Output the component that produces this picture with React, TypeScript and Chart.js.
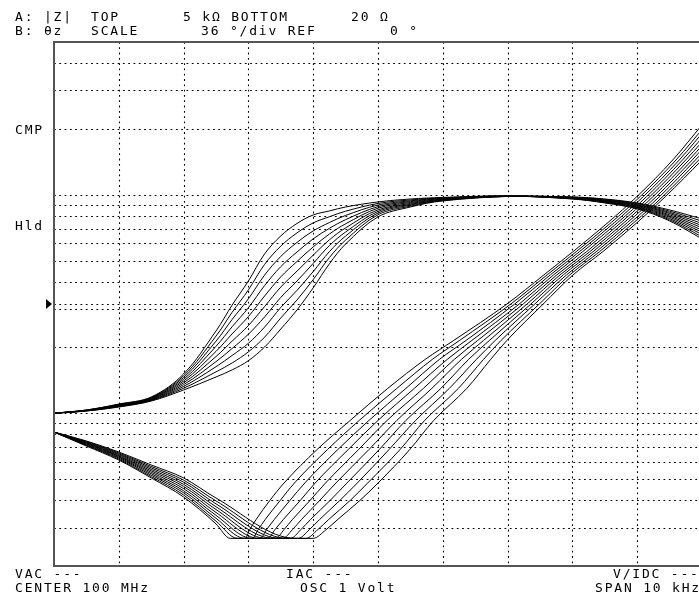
import React, { useEffect, useRef } from "react";
import { Chart, registerables } from "chart.js";

Chart.register(...registerables);

// ---------- axis ranges ----------
const FREQ_MIN_KHZ = -5; // CENTER 100 MHz, SPAN 10 kHz -> offset in kHz
const FREQ_MAX_KHZ = 5;
const MAG_BOTTOM_OHM = 20;
const MAG_TOP_OHM = 5000;
const PHASE_MIN_DEG = -180; // 36 deg/div, REF 0 deg at centre
const PHASE_MAX_DEG = 180;
const PHASE_REF_DEG = 0;

// ---------- grid ----------
const FREQ_GRID_KHZ = [-4, -3, -2, -1, 0, 1, 2, 3, 4];
const MAG_GRID_OHM = [30, 40, 50, 60, 70, 80, 90, 100, 200, 300, 400, 500, 600, 700, 800, 900, 1000, 2000, 3000, 4000];

// ---------- |Z| traces (ohm) sampled at these offsets (kHz) ----------
const MAG_FREQ_KHZ = [-5, -4.5, -4, -3.5, -3, -2.5, -2.25, -2, -1.75, -1.5, -1.25, -1, -0.75, -0.5, 0, 0.5, 1, 2, 3, 3.5, 4, 4.5, 5];
const MAG_OHM: number[][] = [
  [100, 103.5, 110.2, 118.7, 151.3, 238, 313, 403, 536, 648, 739, 808, 843, 879, 927, 956, 972, 987, 956, 917, 861, 759, 628],
  [100, 103.4, 109.8, 118.1, 148.5, 225.5, 290, 367, 480, 582, 669, 743, 793, 841, 912, 947, 968, 986, 958, 921, 867, 768, 642],
  [100, 103.3, 109.4, 117.6, 145.7, 213.7, 269, 334, 429, 522, 605, 683, 746, 804, 897, 938, 964, 986, 961, 926, 873, 778, 658],
  [100, 103.1, 109.0, 117.0, 143.0, 202.5, 249, 304, 384, 469, 547, 628, 702, 769, 882, 930, 960, 985, 963, 930, 879, 789, 673],
  [100, 103.0, 108.7, 116.5, 140.4, 191.9, 231, 277, 344, 421, 495, 577, 661, 736, 868, 921, 956, 985, 965, 934, 885, 799, 689],
  [100, 102.9, 108.3, 115.9, 137.8, 181.8, 214, 252, 308, 378, 447, 529, 622, 705, 853, 912, 952, 984, 968, 939, 892, 809, 706],
  [100, 102.8, 107.9, 115.4, 135.2, 172.3, 198, 230, 276, 339, 403, 485, 585, 675, 839, 904, 948, 984, 970, 943, 898, 820, 722],
  [100, 102.7, 107.6, 114.8, 132.7, 163.3, 184, 209, 248, 305, 365, 445, 549, 647, 825, 896, 945, 983, 972, 947, 904, 830, 739],
  [100, 102.5, 107.2, 114.3, 130.2, 154.7, 170, 191, 223, 273, 330, 409, 516, 620, 810, 887, 941, 983, 975, 952, 911, 841, 757],
  [100, 102.4, 106.8, 113.7, 127.8, 146.6, 158, 174, 201, 243, 297, 375, 483, 595, 792, 879, 937, 982, 977, 956, 917, 852, 775],
];

// ---------- theta-z traces (deg) ----------
// falling part, sampled at these offsets (kHz)
const PHASE_FALL_KHZ = [-5, -4.5, -4, -3.5, -3, -2.5];
const PHASE_FALL_DEG: number[][] = [
  [-88, -97.6, -107.2, -119.5, -132.6, -151.1],
  [-88, -97.1, -106.6, -118.6, -131.2, -149.2],
  [-88, -96.8, -105.9, -117.6, -129.7, -147.2],
  [-88, -96.4, -105.3, -116.6, -128.3, -145.2],
  [-88, -96.0, -104.7, -115.6, -126.8, -143.2],
  [-88, -95.6, -104.2, -114.6, -125.3, -141.2],
  [-88, -95.3, -103.5, -113.6, -123.9, -139.3],
  [-88, -94.9, -102.9, -112.6, -122.4, -137.3],
  [-88, -94.5, -102.3, -111.6, -121.0, -135.3],
  [-88, -94.1, -101.7, -110.6, -119.5, -133.3],
];
// flat bottom of each trace
const PHASE_FLOOR_DEG = -161;
const PHASE_FLOOR_START_KHZ = [-2.28, -2.17, -2.06, -1.95, -1.84, -1.73, -1.62, -1.51, -1.4, -1.28];
const PHASE_FLOOR_END_KHZ = [-2.05, -1.94, -1.82, -1.7, -1.58, -1.47, -1.35, -1.23, -1.11, -1.0];
// rising part: offset (kHz) where each trace reaches these phase levels
const PHASE_RISE_DEG = [-155, -148, -135, -123, -100, -80, -58, -38, -25, 0, 20, 36, 56, 74, 99, 123, 147];
const PHASE_RISE_KHZ: number[][] = [
  [-1.98, -1.88, -1.67, -1.45, -0.94, -0.43, 0.15, 0.73, 1.17, 1.99, 2.56, 3.01, 3.55, 4.0, 4.55, 5.0, 5.46],
  [-1.85, -1.74, -1.51, -1.29, -0.78, -0.29, 0.29, 0.84, 1.26, 2.05, 2.61, 3.06, 3.6, 4.05, 4.6, 5.06, 5.52],
  [-1.72, -1.6, -1.36, -1.13, -0.62, -0.14, 0.43, 0.95, 1.36, 2.11, 2.66, 3.11, 3.65, 4.1, 4.65, 5.11, 5.58],
  [-1.59, -1.46, -1.2, -0.97, -0.46, 0.0, 0.56, 1.07, 1.45, 2.18, 2.71, 3.16, 3.7, 4.15, 4.7, 5.17, 5.64],
  [-1.45, -1.32, -1.05, -0.81, -0.3, 0.14, 0.7, 1.18, 1.54, 2.24, 2.76, 3.22, 3.75, 4.2, 4.75, 5.23, 5.7],
  [-1.32, -1.18, -0.9, -0.65, -0.14, 0.29, 0.83, 1.29, 1.63, 2.3, 2.81, 3.27, 3.8, 4.25, 4.8, 5.28, 5.76],
  [-1.19, -1.04, -0.74, -0.48, 0.02, 0.43, 0.97, 1.4, 1.72, 2.36, 2.86, 3.32, 3.85, 4.3, 4.85, 5.34, 5.81],
  [-1.06, -0.9, -0.59, -0.32, 0.17, 0.58, 1.1, 1.52, 1.81, 2.42, 2.91, 3.37, 3.9, 4.35, 4.9, 5.4, 5.87],
  [-0.93, -0.76, -0.43, -0.16, 0.34, 0.72, 1.24, 1.63, 1.9, 2.49, 2.96, 3.42, 3.95, 4.4, 4.95, 5.45, 5.93],
  [-0.8, -0.62, -0.28, 0.0, 0.49, 0.86, 1.37, 1.74, 1.99, 2.55, 3.01, 3.47, 4.0, 4.44, 5.0, 5.51, 5.99],
];

// ---------- screen annotations ----------
const HEADER_LINE_1 = [
  { text: "A: |Z|", x: 15 },
  { text: "TOP", x: 91 },
  { text: "5 kΩ BOTTOM", x: 183 },
  { text: "20 Ω", x: 351 },
];
const HEADER_LINE_2 = [
  { text: "B: θz", x: 15 },
  { text: "SCALE", x: 91 },
  { text: "36 °/div REF", x: 201 },
  { text: "0 °", x: 390 },
];
const FOOTER_LINE_1 = [
  { text: "VAC ---", x: 15 },
  { text: "IAC ---", x: 286 },
  { text: "V/IDC ---", x: 613 },
];
const FOOTER_LINE_2 = [
  { text: "CENTER 100 MHz", x: 15 },
  { text: "OSC 1 Volt", x: 300 },
  { text: "SPAN 10 kHz", x: 595 },
];
const SIDE_LABELS = [
  { text: "CMP", ohm: 2000, dy: 5 },
  { text: "Hld", ohm: 700, dy: 1 },
];

const CANVAS_W = 720;
const CANVAS_H = 598;

export default function App() {
  const ref = useRef<HTMLCanvasElement>(null);

  useEffect(() => {
    const canvas = ref.current;
    if (!canvas) return;

    const datasets: any[] = [];
    MAG_OHM.forEach((vals, k) => {
      datasets.push({
        label: `|Z| ${k + 1}`,
        yAxisID: "yMag",
        data: MAG_FREQ_KHZ.map((x, i) => ({ x, y: vals[i] })),
        borderColor: "#000",
        borderWidth: 1,
        pointRadius: 0,
        fill: false,
        cubicInterpolationMode: "default",
        tension: 0.35,
      });
    });
    PHASE_FALL_DEG.forEach((vals, k) => {
      const pts = PHASE_FALL_KHZ.map((x, i) => ({ x, y: vals[i] }));
      pts.push({ x: PHASE_FLOOR_START_KHZ[k], y: PHASE_FLOOR_DEG });
      pts.push({ x: PHASE_FLOOR_END_KHZ[k], y: PHASE_FLOOR_DEG });
      PHASE_RISE_DEG.forEach((y, i) => pts.push({ x: PHASE_RISE_KHZ[k][i], y }));
      datasets.push({
        label: `θz ${k + 1}`,
        yAxisID: "yPhase",
        data: pts,
        borderColor: "#000",
        borderWidth: 1,
        pointRadius: 0,
        fill: false,
        cubicInterpolationMode: "monotone",
      });
    });

    const FONT = '13px "DejaVu Sans Mono", monospace';

    const screenPlugin = {
      id: "screen",
      beforeDatasetsDraw(chart: any) {
        const { ctx, chartArea: a, scales } = chart;
        ctx.save();
        ctx.strokeStyle = "#000";
        ctx.lineWidth = 1.1;
        ctx.setLineDash([1.8, 3.5]);
        ctx.beginPath();
        FREQ_GRID_KHZ.forEach((f) => {
          const px = Math.round(scales.x.getPixelForValue(f)) + 0.5;
          ctx.moveTo(px, a.top);
          ctx.lineTo(px, a.bottom);
        });
        MAG_GRID_OHM.forEach((v) => {
          const py = Math.round(scales.yMag.getPixelForValue(v)) + 0.5;
          ctx.moveTo(a.left, py);
          ctx.lineTo(a.right, py);
        });
        const pr = Math.round(scales.yPhase.getPixelForValue(PHASE_REF_DEG)) + 0.5;
        ctx.moveTo(a.left, pr);
        ctx.lineTo(a.right, pr);
        ctx.stroke();
        ctx.restore();
      },
      afterDatasetsDraw(chart: any) {
        const { ctx, chartArea: a, scales } = chart;
        ctx.save();
        // frame
        ctx.setLineDash([]);
        ctx.strokeStyle = "#555";
        ctx.lineWidth = 2;
        ctx.beginPath();
        ctx.moveTo(a.right + 5, a.top);
        ctx.lineTo(a.left, a.top);
        ctx.lineTo(a.left, a.bottom);
        ctx.lineTo(a.right + 5, a.bottom);
        ctx.stroke();

        // reference marker
        const pr = scales.yPhase.getPixelForValue(PHASE_REF_DEG);
        ctx.fillStyle = "#000";
        ctx.beginPath();
        ctx.moveTo(a.left - 8, pr - 5);
        ctx.lineTo(a.left - 2, pr);
        ctx.lineTo(a.left - 8, pr + 5);
        ctx.closePath();
        ctx.fill();

        // texts
        ctx.font = FONT;
        (ctx as any).letterSpacing = "1.8px";
        ctx.textBaseline = "alphabetic";
        ctx.textAlign = "left";
        ctx.fillStyle = "#000";
        HEADER_LINE_1.forEach((t) => ctx.fillText(t.text, t.x, 21));
        HEADER_LINE_2.forEach((t) => ctx.fillText(t.text, t.x, 35));
        FOOTER_LINE_1.forEach((t) => ctx.fillText(t.text, t.x, 578));
        FOOTER_LINE_2.forEach((t) => ctx.fillText(t.text, t.x, 592));
        SIDE_LABELS.forEach((t) => {
          const py = scales.yMag.getPixelForValue(t.ohm);
          ctx.fillText(t.text, 15, py + t.dy);
        });
        ctx.restore();
      },
    };

    const chart = new Chart(canvas, {
      type: "line",
      data: { datasets },
      options: {
        responsive: false,
        animation: false,
        devicePixelRatio: 1,
        events: [],
        layout: { padding: { left: 54, top: 42, right: CANVAS_W - 702, bottom: CANVAS_H - 566 } },
        plugins: { legend: { display: false }, tooltip: { enabled: false }, title: { display: false } },
        elements: { point: { radius: 0 } },
        scales: {
          x: { type: "linear", min: FREQ_MIN_KHZ, max: FREQ_MAX_KHZ, display: false },
          yMag: { type: "logarithmic", min: MAG_BOTTOM_OHM, max: MAG_TOP_OHM, display: false },
          yPhase: { type: "linear", min: PHASE_MIN_DEG, max: PHASE_MAX_DEG, display: false },
        },
      } as any,
      plugins: [screenPlugin],
    });

    return () => chart.destroy();
  }, []);

  return (
    <div
      style={{
        position: "fixed",
        left: 0,
        top: 0,
        width: 699,
        height: 598,
        overflow: "hidden",
        background: "#fff",
      }}
    >
      <canvas ref={ref} width={CANVAS_W} height={CANVAS_H} style={{ display: "block" }} />
    </div>
  );
}
